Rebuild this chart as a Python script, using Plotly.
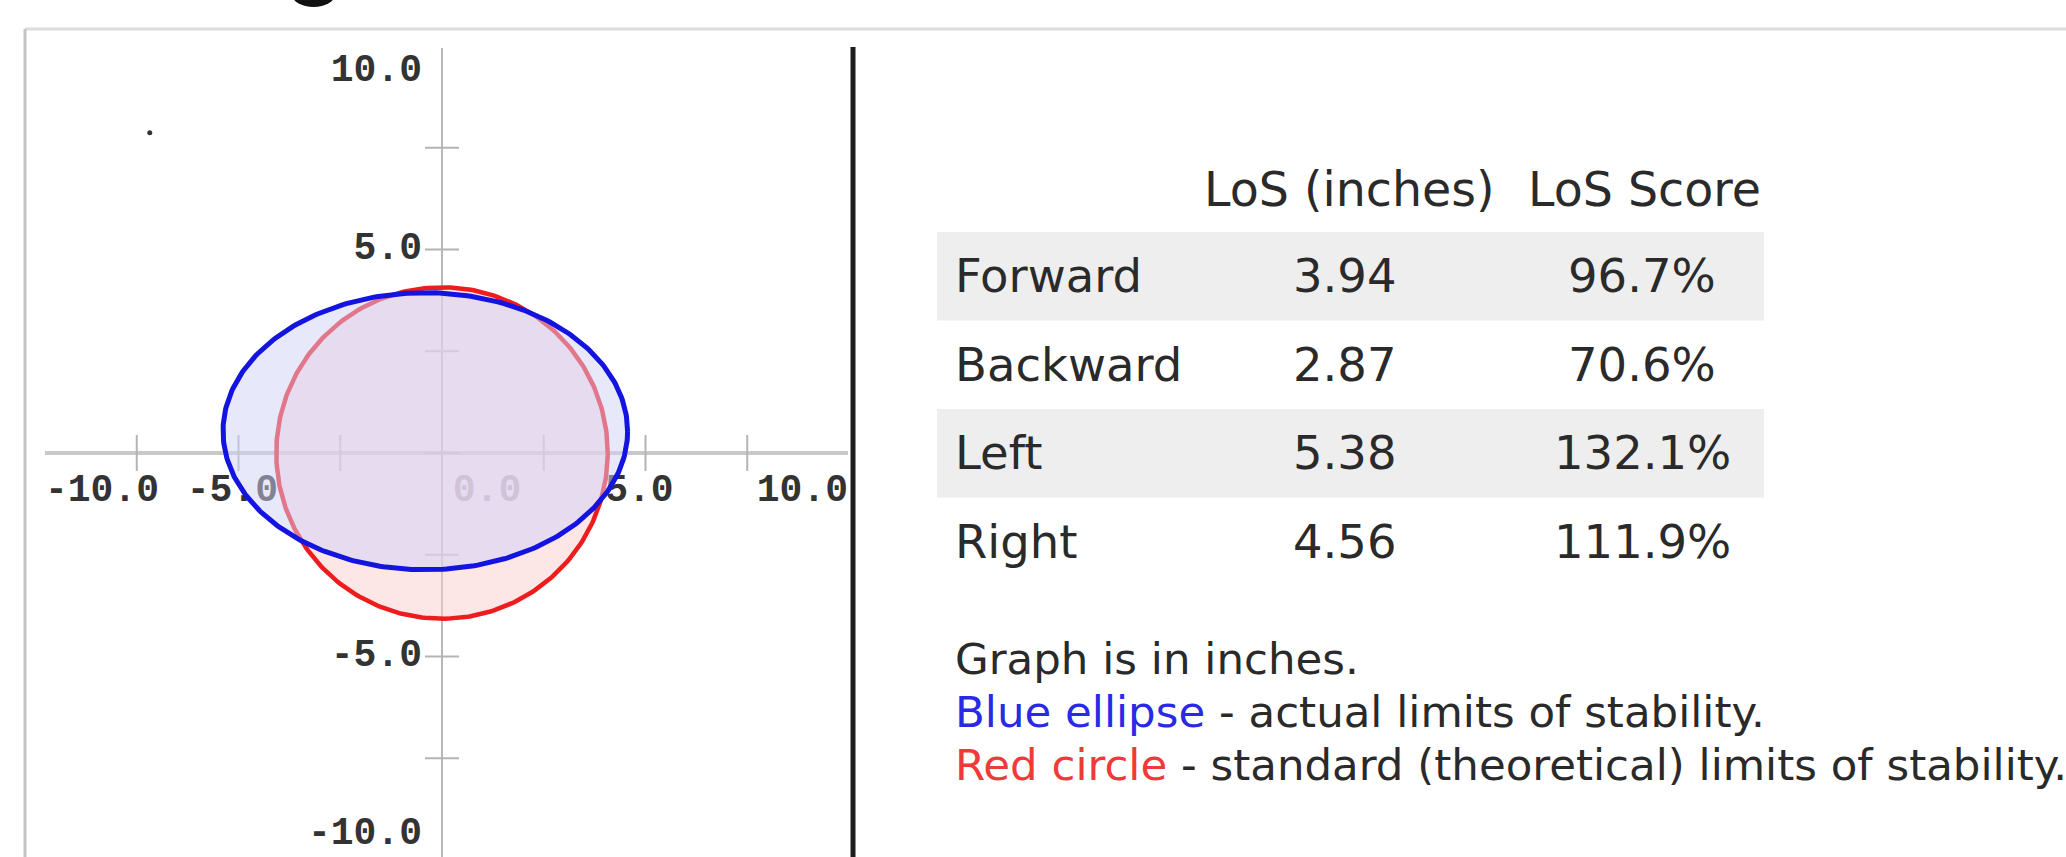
import numpy as np
import plotly.graph_objects as go

# ---------------- data ----------------
directions = ["Forward", "Backward", "Left", "Right"]
los_inches = [3.94, 2.87, 5.38, 4.56]
los_score = [96.7, 70.6, 132.1, 111.9]
col_headers = ["LoS (inches)", "LoS Score"]
axis_ticks = [-7.5, -5.0, -2.5, 0.0, 2.5, 5.0, 7.5]
x_tick_labels = [-10.0, -5.0, 0.0, 5.0, 10.0]
y_tick_labels = [10.0, 5.0, -5.0, -10.0]
stray_x = [-7.18]
stray_y = [7.87]
note_lines = [
    "Graph is in inches.",
    "<span style='color:#2a2ae6'>Blue ellipse</span> - actual limits of stability.",
    "<span style='color:#f03a3a'>Red circle</span> - standard (theoretical) limits of stability.",
]

# ---------------- layout geometry (pixels) ----------------
W, H = 2066, 857
PX = 40.7           # pixels per inch
X0, Y0 = 442, 453   # origin pixel
P_L, P_R, P_T, P_B = 45, 848, 48, 857
xr = [(P_L - X0) / PX, (P_R - X0) / PX]
yr = [(Y0 - P_B) / PX, (Y0 - P_T) / PX]


def px(x):
    return x / W


def py(y):
    return 1 - y / H


fig = go.Figure()

# ---- tick marks (under everything) ----
tx, ty = [], []
hx = 18 / PX
hy = 17 / PX
for t in axis_ticks:
    tx += [t, t, None]
    ty += [-hx, hx, None]
    tx += [-hy, hy, None]
    ty += [t, t, None]
fig.add_trace(go.Scatter(x=tx, y=ty, mode="lines", line=dict(color="#b4b4b4", width=2),
                         hoverinfo="skip", showlegend=False))

# ---- tick labels as text traces (below the fills) ----
mono = dict(family="Liberation Mono, DejaVu Sans Mono, monospace", size=38, color="#333333")
lab_y = -38 / PX
for v in x_tick_labels:
    txt = f"{v:.1f}"
    col = "#333333"
    if v <= xr[0]:
        xx, pos = xr[0], "middle right"
    elif v > xr[1]:
        xx, pos = xr[1], "middle left"
    elif v == 0:
        xx, pos = 45 / PX, "middle center"
        col = "#9a9aa6"
    else:
        xx, pos = v - 0.15, "middle center"
    fig.add_trace(go.Scatter(x=[xx], y=[lab_y], mode="text", text=[f"<b>{txt}</b>"], textposition=pos,
                             textfont=dict(family=mono["family"], size=mono["size"], color=col),
                             hoverinfo="skip", showlegend=False))
for v in y_tick_labels:
    txt = f"{v:.1f}"
    if v > yr[1] - 0.6:
        yy = (Y0 - 71) / PX
    elif v < yr[0] + 0.6:
        yy = (Y0 - 834) / PX
    else:
        yy = v
    fig.add_trace(go.Scatter(x=[-20 / PX], y=[yy], mode="text", text=[f"<b>{txt}</b>"],
                             textposition="middle left",
                             textfont=mono, hoverinfo="skip", showlegend=False))

# ---- stray dot ----
fig.add_trace(go.Scatter(x=stray_x, y=stray_y, mode="markers",
                         marker=dict(size=5, color="#333333"), hoverinfo="skip", showlegend=False))

# ---- standard (red) circle ----
fwd, bwd, lft, rgt = los_inches
std_r = float(np.mean([i / (s / 100.0) for i, s in zip(los_inches, los_score)]))
t = np.linspace(0, 2 * np.pi, 361)
fig.add_trace(go.Scatter(x=std_r * np.cos(t), y=std_r * np.sin(t), mode="lines", fill="toself",
                         fillcolor="rgba(251,205,205,0.5)", line=dict(color="#ee1c1c", width=4.5),
                         hoverinfo="skip", showlegend=False))

# ---- actual (blue) ellipse ----
cx = (rgt - lft) / 2
cy = (fwd - bwd) / 2
a = (lft + rgt) / 2
b = (fwd + bwd) / 2
fig.add_trace(go.Scatter(x=cx + a * np.cos(t), y=cy + b * np.sin(t), mode="lines", fill="toself",
                         fillcolor="rgba(209,209,247,0.5)", line=dict(color="#1414e0", width=5),
                         hoverinfo="skip", showlegend=False))

# ---------------- table ----------------
tfont = dict(family="DejaVu Sans, Verdana, sans-serif", size=46.5, color="#2a2a2a")
hfont = dict(family="DejaVu Sans, Verdana, sans-serif", size=47.5, color="#2a2a2a")
annotations = []
COL2, COL3, LAB_X = 1345, 1642, 953
ROW_TOP, ROW_H = 232, 88.5
shapes = []
annotations.append(dict(x=px(1349), y=py(190), xref="paper", yref="paper", text=col_headers[0],
                        showarrow=False, xanchor="center", yanchor="middle", font=hfont))
annotations.append(dict(x=px(1644), y=py(190), xref="paper", yref="paper", text=col_headers[1],
                        showarrow=False, xanchor="center", yanchor="middle", font=hfont))
for i, (d, v, s) in enumerate(zip(directions, los_inches, los_score)):
    y0 = ROW_TOP + i * ROW_H
    yc = y0 + ROW_H / 2
    if i % 2 == 0:
        shapes.append(dict(type="rect", xref="paper", yref="paper", x0=px(937), x1=px(1764),
                           y0=py(y0), y1=py(y0 + ROW_H), fillcolor="#eeeeee", line=dict(width=0),
                           layer="below"))
    annotations.append(dict(x=px(LAB_X), y=py(yc), xref="paper", yref="paper", text=d,
                            showarrow=False, xanchor="left", yanchor="middle", font=tfont))
    annotations.append(dict(x=px(COL2), y=py(yc), xref="paper", yref="paper", text=f"{v:.2f}",
                            showarrow=False, xanchor="center", yanchor="middle", font=tfont))
    annotations.append(dict(x=px(COL3), y=py(yc), xref="paper", yref="paper", text=f"{s:.1f}%",
                            showarrow=False, xanchor="center", yanchor="middle", font=tfont))

nfont = dict(family="DejaVu Sans, Verdana, sans-serif", size=43.5, color="#2a2a2a")
for j, line in enumerate(note_lines):
    annotations.append(dict(x=px(LAB_X), y=py(659 + j * 53), xref="paper", yref="paper", text=line,
                            showarrow=False, xanchor="left", yanchor="middle", font=nfont))

# ---------------- frame decorations ----------------
shapes.append(dict(type="line", xref="paper", yref="paper", x0=px(25), x1=px(W + 5), y0=py(29), y1=py(29),
                   line=dict(color="#dcdcdc", width=3)))
shapes.append(dict(type="line", xref="paper", yref="paper", x0=px(25), x1=px(25), y0=py(29), y1=py(H + 5),
                   line=dict(color="#c4c4c4", width=3)))
shapes.append(dict(type="line", xref="paper", yref="paper", x0=px(853), x1=px(853), y0=py(47), y1=py(H + 5),
                   line=dict(color="#1e1e1e", width=5)))
shapes.append(dict(type="circle", xref="paper", yref="paper", x0=px(292), x1=px(335), y0=py(-18), y1=py(7),
                   fillcolor="#111111", line=dict(width=0)))

fig.update_layout(
    width=W, height=H, margin=dict(l=0, r=0, t=0, b=0, pad=0),
    paper_bgcolor="white", plot_bgcolor="white",
    xaxis=dict(domain=[px(P_L), px(P_R)], range=xr, showgrid=False, showticklabels=False, ticks="",
               zeroline=True, zerolinecolor="#b8b8b8", zerolinewidth=2, showline=False, fixedrange=True),
    yaxis=dict(domain=[py(P_B), py(P_T)], range=yr, showgrid=False, showticklabels=False, ticks="",
               zeroline=True, zerolinecolor="#c8c8c8", zerolinewidth=4, showline=False, fixedrange=True),
    shapes=shapes, annotations=annotations, showlegend=False,
)

fig.write_html("out.html", config={"displayModeBar": False},
               post_script="document.body.style.margin='0';document.body.style.overflow='hidden';")
